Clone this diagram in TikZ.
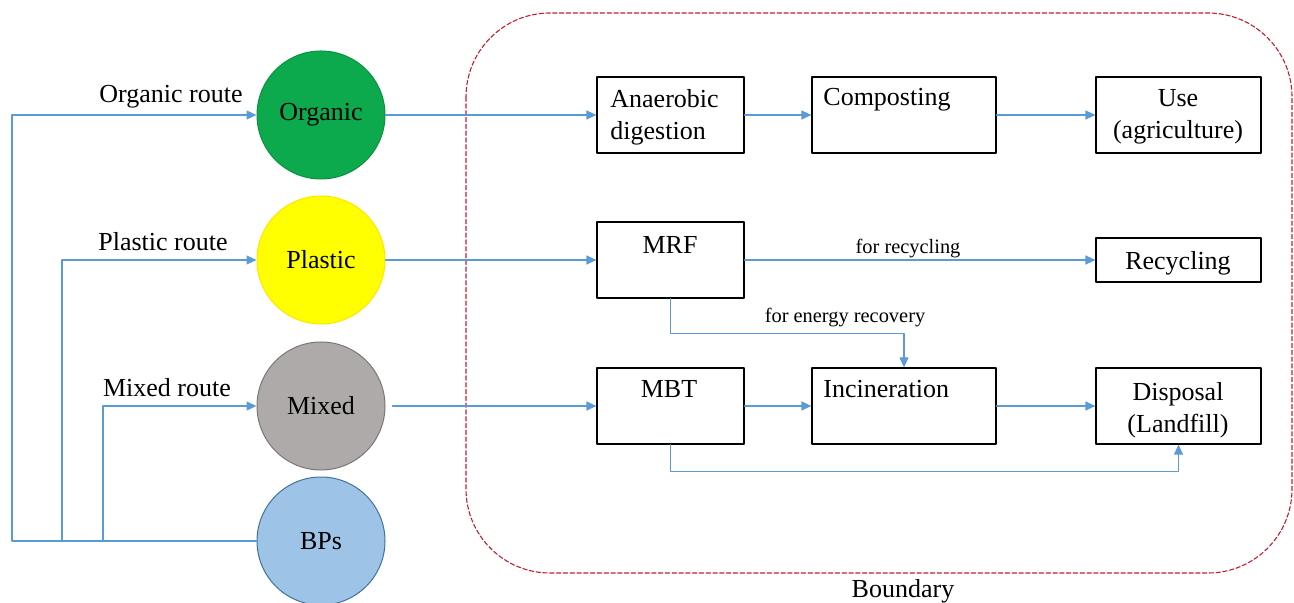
\documentclass[tikz,border=0pt]{standalone}
\usepackage{fontspec}
\setmainfont{Liberation Serif}
\usetikzlibrary{arrows.meta}
\definecolor{flowblue}{RGB}{91,155,213}
\definecolor{orggreen}{RGB}{12,170,76}
\definecolor{plyellow}{RGB}{255,255,0}
\definecolor{mixgray}{RGB}{174,170,170}
\definecolor{bpblue}{RGB}{157,195,230}
\definecolor{bpborder}{RGB}{65,113,156}
\definecolor{bndred}{RGB}{192,30,50}
\tikzset{
  waste/.style={circle,minimum size=64pt,inner sep=0pt,line width=0.5pt,font=\fontsize{13}{16}\selectfont},
  stage/.style={draw=black,line width=0.6pt,inner sep=0pt},
  flow/.style={draw=flowblue,line width=0.6pt},
  bigtxt/.style={font=\fontsize{13}{16}\selectfont,inner sep=0pt},
  smalltxt/.style={font=\fontsize{10.2}{12}\selectfont,inner sep=0pt},
}
\begin{document}
\begin{tikzpicture}[line cap=round,line join=round,>={Triangle[length=5pt,width=4.5pt]},x=0.5pt,y=-0.5pt]
\useasboundingbox (0,0) rectangle (1294,603);
% boundary
\draw[draw=bndred,line width=0.55pt,dash pattern=on 2.2pt off 1.2pt,rounded corners=42pt] (466,13) rectangle (1292,573);
\node[bigtxt,anchor=base] (bnd) at (903,597) {Boundary};
% waste streams
\node[waste,fill=orggreen,draw=orggreen!85!black] (organic) at (321,115) {Organic};
\node[waste,fill=plyellow,draw=plyellow!80!orange] (plastic) at (321,260) {Plastic};
\node[waste,fill=mixgray,draw=mixgray!70!black] (mixed) at (321,406) {Mixed};
\node[waste,fill=bpblue,draw=bpborder] (bps) at (321,541) {BPs};
% stages
\node[stage,minimum width=73.5pt,minimum height=38pt] (ad) at (670.5,115) {};
\node[stage,minimum width=92pt,minimum height=38pt] (comp) at (904,115) {};
\node[stage,minimum width=82.5pt,minimum height=38pt] (use) at (1178.5,115) {};
\node[stage,minimum width=73.5pt,minimum height=38pt] (mrf) at (670.5,260) {};
\node[stage,minimum width=82.5pt,minimum height=22pt] (recy) at (1178.5,260) {};
\node[stage,minimum width=73.5pt,minimum height=38pt] (mbt) at (670.5,406) {};
\node[stage,minimum width=92pt,minimum height=38pt] (inc) at (904,406) {};
\node[stage,minimum width=82.5pt,minimum height=38pt] (disp) at (1178.5,406) {};
% stage texts
\node[bigtxt,align=left,anchor=west] (adtxt) at (610,117) {Anaerobic\\digestion};
\node[bigtxt,anchor=base west] (comptxt) at (823,106) {Composting};
\node[bigtxt,align=center] (usetxt) at (1178,117) {Use\\(agriculture)};
\node[bigtxt,anchor=base] (mrftxt) at (670,254) {MRF};
\node[bigtxt,anchor=base] (recytxt) at (1178,270) {Recycling};
\node[bigtxt,anchor=base] (mbttxt) at (669,398) {MBT};
\node[bigtxt,anchor=base west] (inctxt) at (823,398) {Incineration};
\node[bigtxt,align=center] (disptxt) at (1178,410) {Disposal\\(Landfill)};
% route labels
\node[bigtxt,anchor=base] (orgroute) at (171,103) {Organic route};
\node[bigtxt,anchor=base] (plroute) at (163,251) {Plastic route};
\node[bigtxt,anchor=base] (mixroute) at (167,397) {Mixed route};
\node[smalltxt,anchor=base] (forrec) at (908,254) {for recycling};
\node[smalltxt,anchor=base] (forenergy) at (845,323) {for energy recovery};
% routes from BPs
\coordinate (c1) at (12,541);
\coordinate (c2) at (62,541);
\coordinate (c3) at (103,541);
\draw[flow,->] (bps.west) -- (c1) |- (organic.west);
\draw[flow,->] (c2) |- (plastic.west);
\draw[flow,->] (c3) |- (mixed.west);
% flows
\draw[flow,->] (organic.east) -- (ad.west);
\draw[flow,->] (ad.east) -- (comp.west);
\draw[flow,->] (comp.east) -- (use.west);
\draw[flow,->] (plastic.east) -- (mrf.west);
\draw[flow,->] (mrf.east) -- (recy.west);
\draw[flow,->] (mrf.south) -- ++(0,35) -| (inc.north);
\draw[flow,->,shorten <=3.5pt] (mixed.east) -- (mbt.west);
\draw[flow,->] (mbt.east) -- (inc.west);
\draw[flow,->] (inc.east) -- (disp.west);
\draw[flow,->] (mbt.south) -- ++(0,27) -| (disp.south);
\end{tikzpicture}
\end{document}
